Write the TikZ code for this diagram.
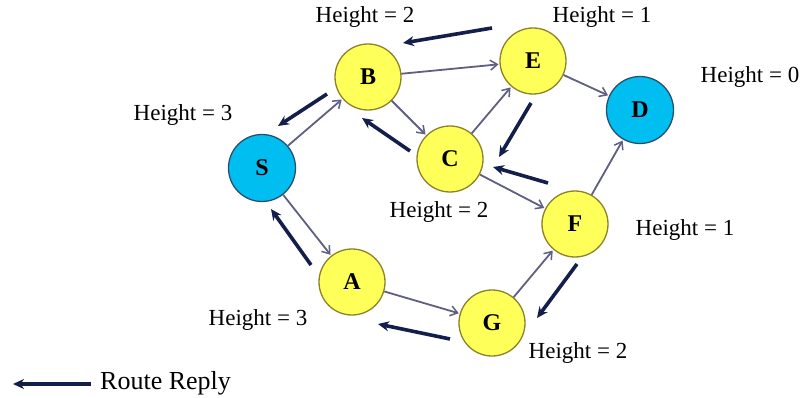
\documentclass[tikz,border=0pt]{standalone}
\usepackage{fontspec}
\setmainfont{Liberation Serif}
\usetikzlibrary{arrows.meta}
\definecolor{nodeyellow}{RGB}{255,255,90}
\definecolor{yellowborder}{RGB}{140,130,40}
\definecolor{nodecyan}{RGB}{0,190,240}
\definecolor{cyanborder}{RGB}{40,80,110}
\definecolor{edgegray}{RGB}{95,95,130}
\definecolor{replyblue}{RGB}{20,30,75}
\tikzset{
  ynode/.style={circle,draw=yellowborder,line width=1.3pt,fill=nodeyellow,minimum size=66pt,inner sep=0pt,font=\fontsize{24}{26}\selectfont\bfseries},
  cnode/.style={circle,draw=cyanborder,line width=1.3pt,fill=nodecyan,minimum size=67pt,inner sep=0pt,font=\fontsize{24}{26}\selectfont\bfseries},
  hlabel/.style={font=\fontsize{23}{25}\selectfont,inner sep=0pt},
  edge/.style={draw=edgegray,line width=1.8pt,-{Straight Barb[length=7pt,width=10pt,line width=1.5pt]},shorten >=1pt},
  reply/.style={draw=replyblue,line width=3.6pt,-{Stealth[length=11pt,width=10pt]}}
}
\begin{document}
\begin{tikzpicture}[x=1pt,y=-1pt]
\useasboundingbox[fill=white] (0,0) rectangle (805,398);
% nodes
\node[cnode] (S) at (262,168) {S};
\node[ynode] (B) at (368,77) {B};
\node[ynode] (E) at (533,61) {E};
\node[cnode] (D) at (640,110) {D};
\node[ynode] (C) at (450,159) {C};
\node[ynode] (F) at (575,224) {F};
\node[ynode] (A) at (352,282) {A};
\node[ynode] (G) at (492,323) {G};
% labels
\node[hlabel] (hB) at (365,17) {Height = 2};
\node[hlabel] (hE) at (602,17) {Height = 1};
\node[hlabel] (hD) at (750,77) {Height = 0};
\node[hlabel] (hS) at (183,115) {Height = 3};
\node[hlabel] (hC) at (439,212) {Height = 2};
\node[hlabel] (hF) at (685,230) {Height = 1};
\node[hlabel] (hA) at (258,320) {Height = 3};
\node[hlabel] (hG) at (578,353) {Height = 2};
% edges
\draw[edge] (S) -- (B);
\draw[edge] (S) -- (A);
\draw[edge] (B) -- (E);
\draw[edge] (B) -- (C);
\draw[edge] (C) -- (E);
\draw[edge] (C) -- (F);
\draw[edge] (E) -- (D);
\draw[edge] (F) -- (D);
\draw[edge] (A) -- (G);
\draw[edge] (G) -- (F);
% route reply arrows
\coordinate (r1a) at (492,28); \coordinate (r1b) at (403,43);
\coordinate (r2a) at (327,94); \coordinate (r2b) at (278,126);
\coordinate (r3a) at (410,151); \coordinate (r3b) at (362,118);
\coordinate (r4a) at (531,103); \coordinate (r4b) at (499,157);
\coordinate (r5a) at (548,183); \coordinate (r5b) at (493,167);
\coordinate (r6a) at (311,265); \coordinate (r6b) at (271,209);
\coordinate (r7a) at (450,339); \coordinate (r7b) at (378,324);
\coordinate (r8a) at (577,264); \coordinate (r8b) at (537,318);
\draw[reply] (r1a) -- (r1b);
\draw[reply] (r2a) -- (r2b);
\draw[reply] (r3a) -- (r3b);
\draw[reply] (r4a) -- (r4b);
\draw[reply] (r5a) -- (r5b);
\draw[reply] (r6a) -- (r6b);
\draw[reply] (r7a) -- (r7b);
\draw[reply] (r8a) -- (r8b);
% legend
\coordinate (la) at (91,384); \coordinate (lb) at (13,384);
\draw[reply] (la) -- (lb);
\node[hlabel,anchor=west,font=\fontsize{26}{28}\selectfont] (leg) at (100,383) {Route Reply};
\end{tikzpicture}
\end{document}
